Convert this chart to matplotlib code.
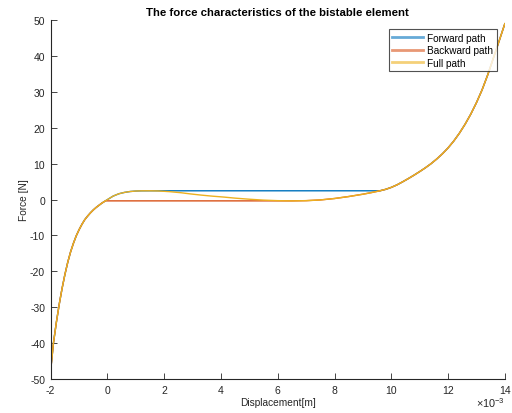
import matplotlib
matplotlib.use("Agg")
import matplotlib.pyplot as plt
from matplotlib.ticker import FuncFormatter
import numpy as np

plt.rcParams['font.family'] = ['Liberation Sans', 'DejaVu Sans']
plt.rcParams['axes.unicode_minus'] = False
plt.rcParams['mathtext.default'] = 'regular'

# Full force-displacement characteristic (displacement in mm, force in N)
disp_mm = [-2.0, -1.9, -1.8, -1.7, -1.6, -1.5, -1.4, -1.3, -1.2, -1.1,
           -1.0, -0.9, -0.8, -0.7, -0.6, -0.5, -0.4, -0.3, -0.2, -0.1, 0.0,
           0.2, 0.4, 0.6, 0.8, 1.0, 1.2, 1.5, 1.8, 2.2, 2.6, 2.9, 3.3, 3.7,
           4.1, 4.5, 5.0, 5.5, 6.0, 6.5, 7.0, 7.5, 8.0, 8.5, 9.0, 9.3, 9.6,
           9.8, 10.0, 10.2, 10.4, 10.6, 10.8, 11.0, 11.2, 11.4, 11.6, 11.8,
           12.0, 12.2, 12.4, 12.6, 12.8, 13.0, 13.2, 13.4, 13.6, 13.8, 14.0]
force = [-47.5, -39.8, -34.2, -29.2, -24.8, -20.9, -17.5, -14.6, -12.2, -10.1,
         -8.4, -6.9, -5.6, -4.6, -3.7, -2.9, -2.2, -1.6, -1.0, -0.5, 0.0,
         0.97, 1.62, 2.0, 2.25, 2.38, 2.44, 2.45, 2.4, 2.2, 1.9, 1.6, 1.25, 0.95,
         0.7, 0.4, 0.1, -0.15, -0.3, -0.36, -0.3, -0.1, 0.3, 0.85, 1.5, 1.95, 2.45,
         2.85, 3.4, 4.1, 4.95, 5.85, 6.8, 7.8, 8.85, 10.0, 11.3, 12.75,
         14.4, 16.3, 18.5, 21.0, 23.8, 27.0, 30.6, 34.8, 39.5, 44.2, 49.0]

# Snap-through plateaus and their switching displacements (mm)
fwd_level = 2.45
fwd_start, fwd_end = 1.5, 9.6
bwd_level = -0.36
bwd_start, bwd_end = -0.07, 6.5


def path_with_plateau(xm, F, start, end, level):
    lo = xm <= start
    hi = xm >= end
    xs = np.concatenate([xm[lo], [start, end], xm[hi]])
    fs = np.concatenate([F[lo], [level, level], F[hi]])
    return xs * 1e-3, fs


xm = np.array(disp_mm)
F = np.array(force)
x = xm * 1e-3

x_fwd, F_fwd = path_with_plateau(xm, F, fwd_start, fwd_end, fwd_level)
x_bwd, F_bwd = path_with_plateau(xm, F, bwd_start, bwd_end, bwd_level)

fig = plt.figure(figsize=(5.12, 4.14), dpi=100)
ax = fig.add_axes([0.099, 0.082, 0.887, 0.867])

c_blue = (0.0, 0.447, 0.741)
c_orange = (0.85, 0.325, 0.098)
c_yellow = (0.929, 0.694, 0.125)

ax.plot(x_fwd, F_fwd, color=c_blue, lw=1.0, label='Forward path')
ax.plot(x_bwd, F_bwd, color=c_orange, lw=1.0, label='Backward path')
ax.plot(x, F, color=c_yellow, lw=1.0, label='Full path')

ax.set_xlim(-2e-3, 14e-3)
ax.set_ylim(-50, 50)
ax.set_xticks(np.arange(-2, 15, 2) * 1e-3)
ax.set_yticks(np.arange(-50, 51, 10))
ax.xaxis.set_major_formatter(FuncFormatter(lambda v, p: f"{v * 1e3:.0f}"))

fig.text(505 / 512, (414 - 396) / 414, r'$\times10^{-3}$', ha='right', va='top',
         fontsize=7.8, color='#262626')

for side in ('top', 'right'):
    ax.spines[side].set_visible(False)
for side in ('left', 'bottom'):
    ax.spines[side].set_color('#262626')
    ax.spines[side].set_linewidth(0.8)
ax.tick_params(direction='in', length=4, width=0.6, colors='#262626',
               labelsize=7.5, pad=4)

ax.set_title('The force characteristics of the bistable element',
             fontsize=8.2, fontweight='bold', pad=4)
ax.set_xlabel('Displacement[m]', fontsize=7.3, color='#262626', labelpad=2)
ax.set_ylabel('Force [N]', fontsize=7.3, color='#262626', labelpad=1)

leg = ax.legend(loc='upper right', bbox_to_anchor=(0.982, 0.975), fontsize=7.2,
                frameon=True, fancybox=False, edgecolor='#262626',
                handlelength=3.1, borderpad=0.35, labelspacing=0.25,
                handletextpad=0.4, borderaxespad=0)
leg.get_frame().set_linewidth(0.8)
for line in leg.get_lines():
    line.set_linewidth(2.0)
    line.set_alpha(0.6)

fig.savefig('out.png', dpi=100)
